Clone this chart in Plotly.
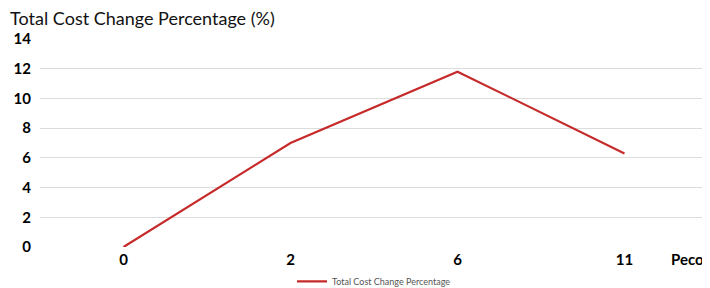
import plotly.graph_objects as go

categories = ["0", "2", "6", "11"]
values = [0, 7.0, 11.8, 6.3]
y_ticks = [0, 2, 4, 6, 8, 10, 12, 14]
series_name = "Total Cost Change Percentage"

fig = go.Figure()
fig.add_trace(go.Scatter(
    x=categories, y=values, mode="lines", name=series_name,
    line=dict(color="#c62a2a", width=2.2),
))

# page body has an 8px margin, so the figure is sized to fit the window
fig.update_layout(
    width=702, height=280,
    margin=dict(l=32, r=2, t=31, b=41, autoexpand=False),
    paper_bgcolor="white", plot_bgcolor="white",
    font=dict(family="Lato, Carlito, Liberation Sans, sans-serif", color="#000"),
    title=dict(text="Total Cost Change Percentage (%)", x=0.003, xanchor="left",
               y=0.962, yanchor="middle",
               font=dict(size=18, color="#111")),
    showlegend=True,
    legend=dict(orientation="h", x=0.5, xanchor="center", yref="paper",
                y=-0.165, yanchor="middle",
                font=dict(size=9, color="#555"), itemwidth=30),
    xaxis=dict(type="category", range=[-0.5, 3.5], showgrid=False, zeroline=False,
               showline=False, ticks="", ticklabelstandoff=2,
               tickfont=dict(size=15, color="#000", weight="bold")),
    yaxis=dict(range=[0, 14], tickvals=y_ticks, showgrid=True, gridcolor="#dcdcdc",
               gridwidth=1, zeroline=False, showline=False, ticks="",
               tickfont=dict(size=15, color="#000", weight="bold"), ticklabelstandoff=8),
)
fig.add_annotation(text="<b>Peco</b>", xref="paper", yref="paper", x=0.997, y=-0.003,
                   xanchor="right", yanchor="top", showarrow=False,
                   font=dict(size=15, color="#000"))

fig.write_html("out.html")
